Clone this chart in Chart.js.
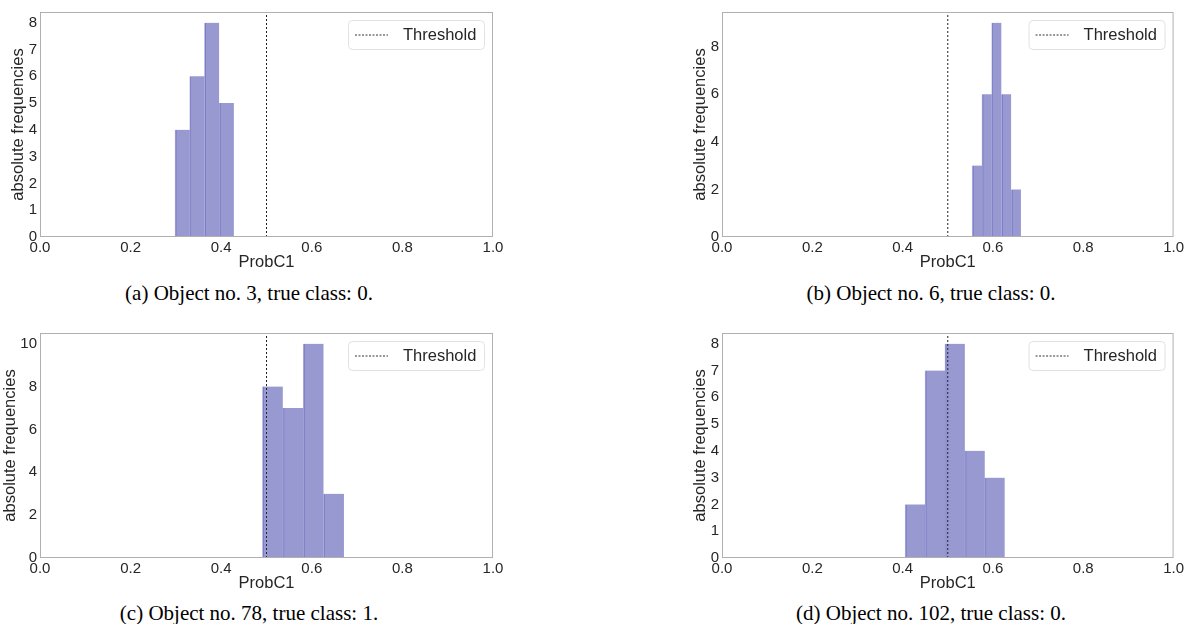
<!DOCTYPE html>
<html>
<head>
<meta charset="utf-8">
<script src="https://cdn.jsdelivr.net/npm/chart.js@4.4.1/dist/chart.umd.min.js"></script>
<style>
  body { margin: 0; background: #fff; width: 1186px; height: 624px; position: relative; overflow: hidden; }
  canvas { position: absolute; }
  .cap { position: absolute; text-align: center; font-family: "Liberation Serif", "Times New Roman", serif;
         font-size: 21px; line-height: 24px; color: #000; }
</style>
</head>
<body>
<canvas id="cA" width="510" height="275" style="left:0;top:0"></canvas>
<canvas id="cB" width="506" height="275" style="left:680px;top:0"></canvas>
<canvas id="cC" width="510" height="275" style="left:0;top:321px"></canvas>
<canvas id="cD" width="506" height="275" style="left:680px;top:321px"></canvas>
<div class="cap" id="capA" style="left:0;width:498px;top:281px"></div>
<div class="cap" id="capB" style="left:680px;width:502px;top:281px"></div>
<div class="cap" id="capC" style="left:0;width:498px;top:601px"></div>
<div class="cap" id="capD" style="left:680px;width:502px;top:601px"></div>
<script>
// histogram bin edges and counts
const edgesA = [0.2980, 0.3305, 0.3630, 0.3955, 0.4280]
const countsA = [4, 6, 8, 5]
const edgesB = [0.5540, 0.5756, 0.5972, 0.6188, 0.6404, 0.6620]
const countsB = [3, 6, 9, 6, 2]
const edgesC = [0.4910, 0.5360, 0.5810, 0.6260, 0.6710]
const countsC = [8, 7, 10, 3]
const edgesD = [0.4055, 0.4496, 0.4937, 0.5378, 0.5819, 0.6260]
const countsD = [2, 7, 8, 4, 3]

const xTicks = [0.0, 0.2, 0.4, 0.6, 0.8, 1.0]
const yTicksA = [0, 1, 2, 3, 4, 5, 6, 7, 8]
const yTicksB = [0, 2, 4, 6, 8]
const yTicksC = [0, 2, 4, 6, 8, 10]
const yTicksD = [0, 1, 2, 3, 4, 5, 6, 7, 8]

const threshold = 0.5
const xLabel = 'ProbC1'
const yLabel = 'absolute frequencies'
const legendLabel = 'Threshold'
const captions = [
  '(a) Object no. 3, true class: 0.',
  '(b) Object no. 6, true class: 0.',
  '(c) Object no. 78, true class: 1.',
  '(d) Object no. 102, true class: 0.'
]

const textColor = '#262626'
const sans = '"Liberation Sans", Arial, sans-serif'

// frame around the plot area + legend box in the top right corner
const framePlugin = {
  id: 'frame',
  afterDraw(chart) {
    const {ctx, chartArea: a} = chart
    ctx.save()
    ctx.strokeStyle = '#b0b0b0'
    ctx.lineWidth = 1
    ctx.strokeRect(a.left + 0.5, a.top + 0.5, a.right - a.left - 1, a.bottom - a.top - 1)

    const w = 136, h = 29
    const bx = a.right - 9 - w, by = a.top + 8
    ctx.beginPath()
    ctx.roundRect(bx + 0.5, by + 0.5, w, h, 4)
    ctx.fillStyle = 'rgba(255,255,255,0.85)'
    ctx.fill()
    ctx.strokeStyle = '#e2e2e2'
    ctx.stroke()

    const my = by + h / 2 + 0.5
    ctx.beginPath()
    ctx.setLineDash([2, 1.5])
    ctx.strokeStyle = '#333'
    ctx.moveTo(bx + 7, my)
    ctx.lineTo(bx + 40, my)
    ctx.stroke()
    ctx.setLineDash([])

    ctx.fillStyle = textColor
    ctx.font = '16.5px ' + sans
    ctx.textBaseline = 'middle'
    ctx.fillText(legendLabel, bx + 55, my)
    ctx.restore()
  }
}

const histChart = function (id, edges, counts, yTicks, yAxisW, yTitlePad, padRight) {
  const centers = counts.map((c, i) => (edges[i] + edges[i + 1]) / 2)
  const yMax = Math.max(...counts) * 1.05
  new Chart(document.getElementById(id), {
    type: 'bar',
    data: {
      datasets: [{
        type: 'bar',
        order: 2,
        data: centers.map((x, i) => ({x: x, y: counts[i]})),
        backgroundColor: 'rgba(0,0,139,0.4)',
        borderColor: 'rgba(30,30,170,0.35)',
        borderWidth: {left: 1, right: 0, top: 0, bottom: 0},
        barPercentage: 1,
        categoryPercentage: 1
      }, {
        type: 'line',
        order: 1,
        data: [{x: threshold, y: 0}, {x: threshold, y: yMax}],
        borderColor: '#222',
        borderWidth: 1,
        borderDash: [2, 2],
        pointRadius: 0,
        fill: false
      }]
    },
    options: {
      responsive: false,
      animation: false,
      layout: {padding: {top: 12, right: padRight, left: 0, bottom: 0}},
      plugins: {legend: {display: false}, tooltip: {enabled: false}},
      scales: {
        x: {
          type: 'linear', min: 0, max: 1, offset: false,
          grid: {display: false, drawTicks: false, offset: false},
          border: {display: false},
          afterBuildTicks: s => { s.ticks = xTicks.map(v => ({value: v})) },
          afterFit: s => { s.height = 38 },
          ticks: {callback: v => v.toFixed(1), font: {family: sans, size: 15}, color: textColor,
                  padding: 2, maxRotation: 0, autoSkip: false},
          title: {display: true, text: xLabel, color: textColor, font: {family: sans, size: 16.5},
                  padding: {top: 0, bottom: 3}}
        },
        y: {
          min: 0, max: yMax,
          grid: {display: false, drawTicks: false},
          border: {display: false},
          afterBuildTicks: s => { s.ticks = yTicks.map(v => ({value: v})) },
          afterFit: s => { s.width = yAxisW },
          ticks: {font: {family: sans, size: 15}, color: textColor, padding: 3},
          title: {display: true, text: yLabel, color: textColor, font: {family: sans, size: 16.5},
                  padding: {top: yTitlePad, bottom: 0}}
        }
      }
    },
    plugins: [framePlugin]
  })
}

histChart('cA', edgesA, countsA, yTicksA, 40, 9, 17)
histChart('cB', edgesB, countsB, yTicksB, 42, 11, 11)
histChart('cC', edgesC, countsC, yTicksC, 40, 1, 17)
histChart('cD', edgesD, countsD, yTicksD, 42, 11, 11)

document.getElementById('capA').textContent = captions[0]
document.getElementById('capB').textContent = captions[1]
document.getElementById('capC').textContent = captions[2]
document.getElementById('capD').textContent = captions[3]
</script>
</body>
</html>
